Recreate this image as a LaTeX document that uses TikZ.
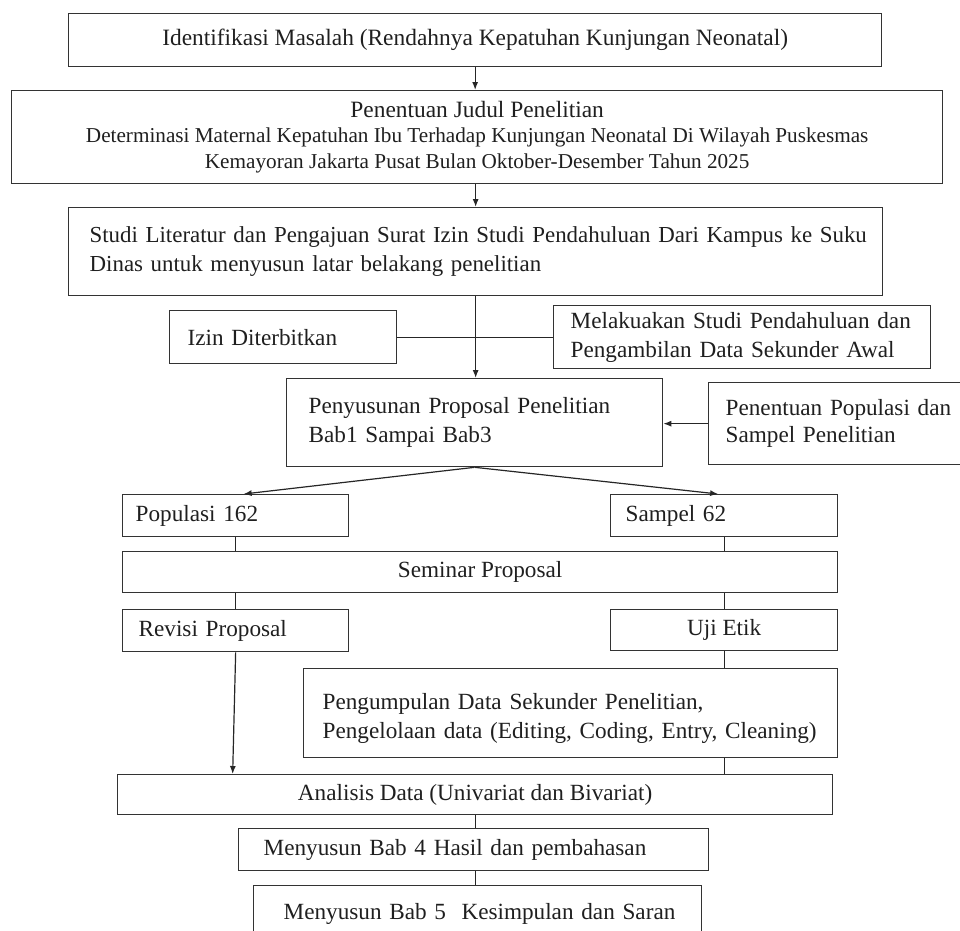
\documentclass[tikz,border=0pt]{standalone}
\usepackage{fontspec}
\setmainfont{Liberation Serif}
\usetikzlibrary{arrows.meta,calc}
\newcommand\oneln[1]{\mbox{#1}}
\begin{document}
\begin{tikzpicture}[x=1pt,y=-1pt,
  box/.style={draw=black!80, line width=1.3pt, anchor=north west, inner ysep=0pt,
    text=black!88, font=\fontsize{23.2}{29}\selectfont},
  lbox/.style={box, align=left},
  cbox/.style={box, align=center, inner xsep=0pt},
  conn/.style={draw=black!85, line width=1.2pt},
  arr/.style={conn, -{Latex[length=8pt,width=6pt]}}
]
\clip (0,0) rectangle (960,930);

\node[cbox, minimum width=813pt, minimum height=53pt, font=\fontsize{23.4}{28}\selectfont] (iden) at (68,13)
  {Identifikasi Masalah (Rendahnya Kepatuhan Kunjungan Neonatal)};
\node[cbox, minimum width=931pt, minimum height=93pt, font=\fontsize{21.2}{25.5}\selectfont] (judul) at (11,90)
  {{\fontsize{23.4}{28}\selectfont Penentuan Judul Penelitian}\\
   Determinasi Maternal Kepatuhan Ibu Terhadap Kunjungan Neonatal Di Wilayah Puskesmas\\
   Kemayoran Jakarta Pusat Bulan Oktober-Desember Tahun 2025};
\node[lbox, inner xsep=21pt, text width=772pt, minimum height=88pt, font=\fontsize{22.9}{28.5}\selectfont] (studi) at (68,207)
  {\oneln{Studi Literatur dan Pengajuan Surat Izin Studi Pendahuluan Dari Kampus ke Suku}\\
   \oneln{Dinas untuk menyusun latar belakang penelitian}};
\node[lbox, inner xsep=18pt, text width=191pt, minimum height=53pt] (izin) at (169,310)
  {Izin Diterbitkan};
\node[lbox, inner xsep=17pt, text width=343pt, minimum height=63pt] (melak) at (553,305)
  {\oneln{Melakuakan Studi Pendahuluan dan}\\ \oneln{Pengambilan Data Sekunder Awal}};
\node[lbox, inner xsep=22pt, text width=332pt, minimum height=88pt] (susun) at (286,378)
  {\oneln{Penyusunan Proposal Penelitian}\\ \oneln{Bab1 Sampai Bab3}\\[6pt]};
\node[lbox, inner xsep=17pt, text width=240pt, minimum height=82pt, font=\fontsize{23.2}{26.5}\selectfont] (popsam) at (708,382)
  {\oneln{Penentuan Populasi dan}\\ \oneln{Sampel Penelitian}};
\node[lbox, inner xsep=13pt, text width=200pt, minimum height=42pt] (pop) at (122,494)
  {Populasi 162};
\node[lbox, inner xsep=15pt, text width=197pt, minimum height=42pt] (samp) at (610,494)
  {Sampel 62};
\node[cbox, minimum width=715pt, minimum height=41pt] (sem) at (122,551)
  {Seminar Proposal};
\node[lbox, inner xsep=16pt, text width=194pt, minimum height=42pt] (rev) at (122,609)
  {Revisi Proposal};
\node[cbox, minimum width=227pt, minimum height=41pt] (uji) at (610,609)
  {Uji Etik};
\node[lbox, inner xsep=19pt, text width=496pt, minimum height=89pt] (kumpul) at (303,668)
  {\\[-2pt]\oneln{Pengumpulan Data Sekunder Penelitian,}\\ \oneln{Pengelolaan data (Editing, Coding, Entry, Cleaning)}};
\node[cbox, minimum width=715pt, minimum height=40pt] (anal) at (117,774)
  {Analisis Data (Univariat dan Bivariat)};
\node[lbox, inner xsep=25pt, text width=420pt, minimum height=42pt] (bab4) at (238,828)
  {\oneln{Menyusun Bab 4 Hasil dan pembahasan}};
\node[lbox, inner xsep=30pt, text width=388pt, minimum height=56pt] (bab5) at (253,885)
  {\oneln{Menyusun Bab 5\ \ Kesimpulan dan Saran}};

\draw[arr] (iden.south) -- (iden.south |- judul.north);
\draw[arr] (studi.north |- judul.south) -- (studi.north);
\draw[arr] (studi.south) -- (studi.south |- susun.north);
\draw[conn] (izin.east) -- (melak.west);
\draw[arr] (popsam.west) -- (popsam.west -| susun.east);
\draw[arr] (susun.south) -- ($(pop.north)+(8,0)$);
\draw[arr] (susun.south) -- ($(samp.north)+(-6,0)$);
\draw[conn] (pop.south) -- (pop.south |- sem.north);
\draw[conn] (samp.south) -- (samp.south |- sem.north);
\draw[conn] (rev.north |- sem.south) -- (rev.north);
\draw[conn] (uji.north |- sem.south) -- (uji.north);
\draw[arr] (rev.south) -- ($(rev.south |- anal.north)+(-3,0)$);
\draw[conn] (uji.south) -- (uji.south |- kumpul.north);
\draw[conn] (uji.south |- kumpul.south) -- (uji.south |- anal.north);
\draw[conn] (anal.south) -- (anal.south |- bab4.north);
\draw[conn] (anal.south |- bab4.south) -- (anal.south |- bab5.north);
\end{tikzpicture}
\end{document}
